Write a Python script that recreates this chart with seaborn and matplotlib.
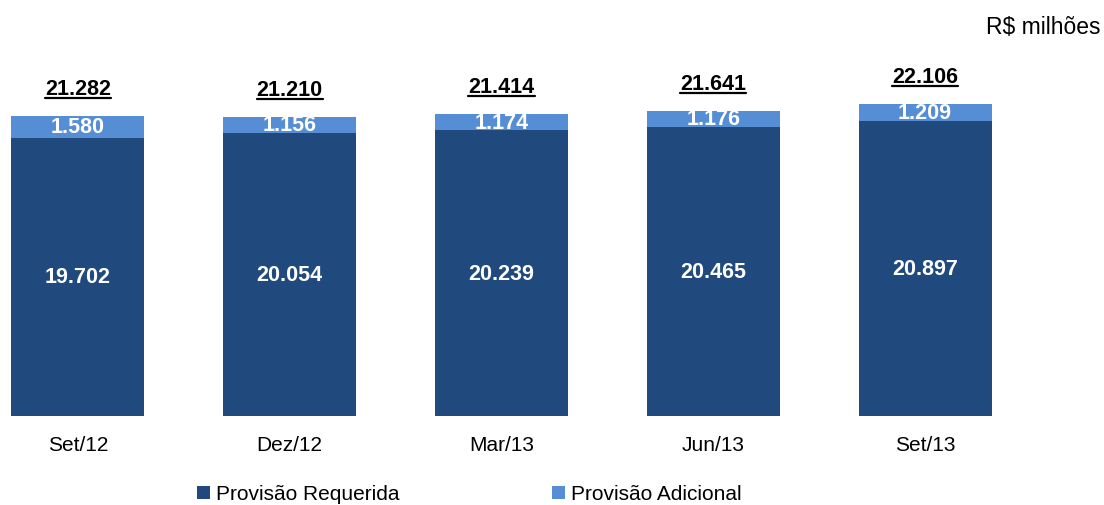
import matplotlib
matplotlib.use("Agg")
import matplotlib.pyplot as plt
import seaborn as sns
import pandas as pd
from matplotlib.patches import Patch
from matplotlib.lines import Line2D

categories = ["Set/12", "Dez/12", "Mar/13", "Jun/13", "Set/13"]
requerida = [19702, 20054, 20239, 20465, 20897]
adicional = [1580, 1156, 1174, 1176, 1209]
totais = [21282, 21210, 21414, 21641, 22106]

DARK = "#204a7e"
LIGHT = "#558ed5"

sns.set_theme(style="white")
plt.rcParams["font.family"] = ["Liberation Sans", "DejaVu Sans"]
plt.rcParams["text.color"] = "black"

def fmt(v):
    return f"{v:,}".replace(",", ".")

df = pd.DataFrame({"cat": categories, "req": requerida, "adic": adicional})
df["stack"] = df["req"] + df["adic"]

fig = plt.figure(figsize=(11.04, 5.06), dpi=100)
ax = fig.add_axes([0, 89 / 506, 1, 357 / 506])

W = 0.628
sns.barplot(data=df, x="cat", y="stack", color=LIGHT, saturation=1, width=W, ax=ax,
            order=categories, linewidth=0)
sns.barplot(data=df, x="cat", y="req", color=DARK, saturation=1, width=W, ax=ax,
            order=categories, linewidth=0)
ax.set_xlim(-0.368, 4.845)
ax.set_ylim(0, 25300)
for s in ax.spines.values():
    s.set_visible(False)
ax.set_yticks([])
ax.set_xlabel("")
ax.set_ylabel("")
ax.tick_params(axis="x", length=0, pad=14, labelsize=15)
for t in ax.get_xticklabels():
    t.set_color("#000000")

total_texts = []
for i in range(len(categories)):
    r, a, t = requerida[i], adicional[i], totais[i]
    ax.text(i, r / 2, fmt(r), ha="center", va="center", color="white",
            fontsize=15.5, fontweight="bold")
    ax.text(i, r + a / 2, fmt(a), ha="center", va="center", color="white",
            fontsize=15.5, fontweight="bold")
    tt = ax.annotate(fmt(t), xy=(i, r + a), xytext=(0, 12), textcoords="offset points",
                     ha="center", va="bottom", fontsize=15.5, fontweight="bold", color="black")
    total_texts.append(tt)

fig.text(0.997, 1 - 28 / 506, "R$ milhões", ha="right", va="center", fontsize=16.5, color="black")

handles = [Patch(facecolor=DARK, edgecolor="none", label="Provisão Requerida"),
           Patch(facecolor=LIGHT, edgecolor="none", label="Provisão Adicional")]
leg = fig.legend(handles=handles, loc="center left", bbox_to_anchor=(197 / 1104, 1 - 495 / 506), ncol=2,
                 frameon=False, fontsize=15, handlelength=0.6, handleheight=0.6,
                 handletextpad=0.3, columnspacing=7.35, borderpad=0, borderaxespad=0)
for txt in leg.get_texts():
    txt.set_color("black")

# underline totals
fig.canvas.draw()
renderer = fig.canvas.get_renderer()
inv = fig.transFigure.inverted()
for tt in total_texts:
    bb = tt.get_window_extent(renderer)
    (x0, y0) = inv.transform((bb.x0, bb.y0 + 1))
    (x1, _) = inv.transform((bb.x1, bb.y0 + 1))
    fig.add_artist(Line2D([x0, x1], [y0, y0], color="black", lw=1.6, transform=fig.transFigure))

fig.savefig("out.png", dpi=100)
